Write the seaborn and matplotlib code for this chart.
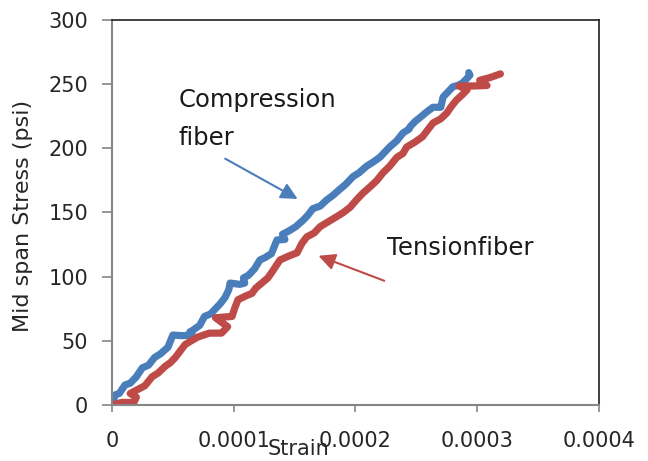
import numpy as np
import pandas as pd
import matplotlib
matplotlib.use("Agg")
import matplotlib.pyplot as plt
import seaborn as sns

# ==========================================
# Data (strain in microstrain, stress in psi)
# ==========================================

comp_strain = [0, 2.5, 6, 10.7, 15, 20, 25, 30, 35, 40, 46, 50, 58, 66, 64, 66, 72,
               76, 81, 85, 89, 93, 96, 97, 105, 109, 108, 112, 117, 121.5, 126, 131,
               135.5, 142, 140, 146, 151, 157, 161, 165, 171, 176.6, 181, 187, 192,
               198, 203, 209, 214, 220, 224, 228, 234, 239, 244, 245, 249, 253, 258,
               263.6, 270, 272, 276, 280, 284, 288, 292, 294, 293]
comp_stress = [0, 7.8, 9, 15.6, 17, 22, 29, 31, 37, 40, 45, 54.5, 54, 54.5, 57, 58,
               62, 69, 71, 75, 79, 84, 90, 95, 94, 95, 99, 101, 106, 113, 115, 118,
               128.6, 129, 133, 136, 139, 144, 148, 153, 155, 160, 163, 168, 172, 178,
               181, 186, 189, 193, 197, 201, 206, 212, 215, 217, 221, 224, 228, 232,
               232, 240, 244, 248, 249, 251, 255, 257, 259]

tens_strain = [0, 8, 18, 20, 15, 21, 27, 33, 38, 43.5, 48, 52, 56, 60, 65, 70.6, 80,
               90, 95, 85, 98.6, 101, 103.5, 110, 115, 118, 123, 128, 131, 138, 145,
               152, 156, 160, 166, 171, 178, 185, 190, 195.5, 201, 206, 212, 217.6,
               222.6, 228, 234, 239, 242, 249, 255, 259, 263.6, 270, 275, 279, 283,
               288, 291.6, 285, 298, 308, 302, 310, 316, 319]
tens_stress = [0, 2, 2, 6, 9, 12, 15, 22, 25, 30, 33, 37, 42, 47, 50, 53, 56, 56, 61,
               68, 69, 76, 82, 85, 87, 91, 95, 99, 103, 113, 116, 118.6, 126, 131, 134,
               139, 143, 147, 150, 154, 160, 165, 170, 175, 181, 186, 193, 196, 201,
               205, 209, 214, 219.7, 223, 227.5, 233, 237.7, 242, 245.5, 248.6, 248.6,
               249, 253, 255, 257, 258]

x_ticks = [0, 0.0001, 0.0002, 0.0003, 0.0004]
x_tick_labels = ["0", "0.0001", "0.0002", "0.0003", "0.0004"]
y_ticks = [0, 50, 100, 150, 200, 250, 300]

df = pd.concat([
    pd.DataFrame({"strain": np.array(comp_strain) * 1e-6, "stress": comp_stress,
                  "fiber": "Compression"}),
    pd.DataFrame({"strain": np.array(tens_strain) * 1e-6, "stress": tens_stress,
                  "fiber": "Tension"}),
], ignore_index=True)

# ==========================================
# Plot
# ==========================================

sns.set_style("white")
plt.rcParams["font.family"] = ["DejaVu Sans"]

fig = plt.figure(figsize=(6.48, 4.61), dpi=100)
ax = fig.add_axes([0.1728, 0.1215, 0.7516, 0.8351])

blue = "#4a7ebb"
red = "#be4b48"

sns.lineplot(
    data=df, x="strain", y="stress", hue="fiber", hue_order=["Compression", "Tension"],
    palette=[blue, red], sort=False, estimator=None, linewidth=5.2, legend=False,
    solid_capstyle="round", solid_joinstyle="round", ax=ax,
)

ax.set_xlim(0, 0.0004)
ax.set_ylim(0, 300)
ax.set_xticks(x_ticks)
ax.set_xticklabels(x_tick_labels, fontsize=15)
ax.set_yticks(y_ticks)
ax.set_yticklabels([str(v) for v in y_ticks], fontsize=15)

ax.tick_params(axis="x", direction="out", length=5, width=1.2, color="#868686",
               pad=14, bottom=True)
ax.tick_params(axis="y", direction="out", length=7, width=1.2, color="#868686",
               pad=10, left=True)

for side in ["left", "bottom"]:
    ax.spines[side].set_color("#868686")
    ax.spines[side].set_linewidth(1.5)
for side in ["top", "right"]:
    ax.spines[side].set_color("#202020")
    ax.spines[side].set_linewidth(1.2)

# the reference has "Strain" sitting between the 0.0001 and 0.0002 labels
ax.set_xlabel("Strain", fontsize=15)
ax.xaxis.set_label_coords(0.384, -0.088)
ax.set_ylabel("Mid span Stress (psi)", fontsize=16)
ax.yaxis.set_label_coords(-0.163, 0.49)

# annotations
ax.annotate("", xy=(0.0001545, 159.5), xytext=(0.000091, 193),
            arrowprops=dict(arrowstyle="-|>,head_length=1.0,head_width=0.5",
                            color=blue, lw=1.5))
ax.annotate("", xy=(0.0001675, 117), xytext=(0.0002258, 96),
            arrowprops=dict(arrowstyle="-|>,head_length=1.0,head_width=0.5",
                            color=red, lw=1.5))
ax.text(0.0000545, 247, "Compression", fontsize=17.5, va="top", ha="left",
        color="#1a1a1a")
ax.text(0.0000545, 217.5, "fiber", fontsize=17.5, va="top", ha="left",
        color="#1a1a1a")
ax.text(0.000226, 132, "Tensionfiber", fontsize=17.5, va="top", ha="left",
        color="#1a1a1a")

fig.savefig("out.png", dpi=100)
